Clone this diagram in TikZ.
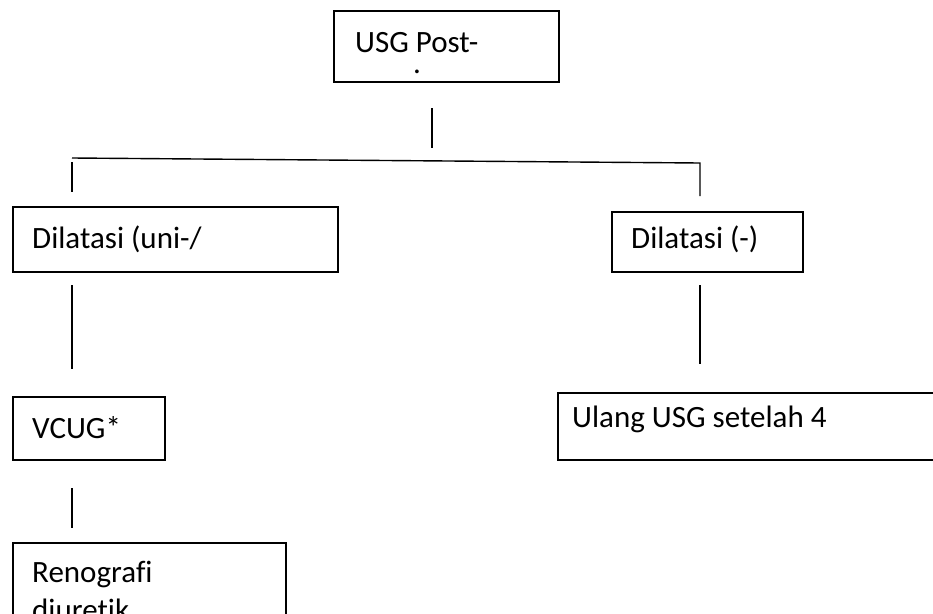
\documentclass[tikz,border=0pt]{standalone}
\usepackage{fontspec}
\setmainfont{Carlito}[Ligatures=NoCommon]
\begin{document}
\begin{tikzpicture}[x=1pt,y=-1pt,
  box/.style={draw, line width=1.5pt, rectangle, inner sep=0pt, anchor=north west},
  lbl/.style={anchor=base west, inner sep=0pt, font=\fontsize{31}{38}\selectfont},
  link/.style={line width=1.4pt}]
\useasboundingbox (0,0) rectangle (933,613);
\clip (0,0) rectangle (933,613);

% boxes
\node[box, minimum width=225pt, minimum height=71pt] (usg) at (333,10) {};
\node[box, minimum width=325pt, minimum height=65pt] (dilL) at (12,206) {};
\node[box, minimum width=191pt, minimum height=60pt] (dilR) at (611,211) {};
\node[box, minimum width=152pt, minimum height=63pt] (vcug) at (12,396) {};
\node[box, minimum width=400pt, minimum height=67pt] (ulang) at (557,392) {};
\node[box, minimum width=273pt, minimum height=100pt] (reno) at (12,542) {};

% box texts
\node[lbl] (usgT) at (355,52) {USG Post-};
\node[lbl, anchor=base] (usgDot) at (417,73) {.};
\node[lbl] (dilLT) at (32,248) {Dilatasi (uni-/};
\node[lbl] (dilRT) at (631,248) {Dilatasi (-)};
\node[lbl] (vcugT) at (32,438) {VCUG*};
\node[lbl] (ulangT) at (572,427) {Ulang USG setelah 4};
\node[lbl] (renoT) at (32,582) {Renografi};
\node[lbl] (renoT2) at (32,620) {diuretik};

% connector end points
\coordinate (a1) at (432,108);
\coordinate (a2) at (432,148);
\coordinate (barL) at (72,158);
\coordinate (barR) at (700,163);
\coordinate (dropR) at (700,196);
\coordinate (dropL1) at (72,162);
\coordinate (dropL2) at (72,192);
\coordinate (l1) at (72,285);
\coordinate (l2) at (72,369);
\coordinate (r1) at (700,285);
\coordinate (r2) at (700,364);
\coordinate (l3) at (72,488);
\coordinate (l4) at (72,528);

% connectors
\draw[link] (a1) -- (a2);
\draw[link] (barL) -- (barR) -- (dropR);
\draw[link] (dropL1) -- (dropL2);
\draw[link] (l1) -- (l2);
\draw[link] (r1) -- (r2);
\draw[link] (l3) -- (l4);
\end{tikzpicture}
\end{document}
